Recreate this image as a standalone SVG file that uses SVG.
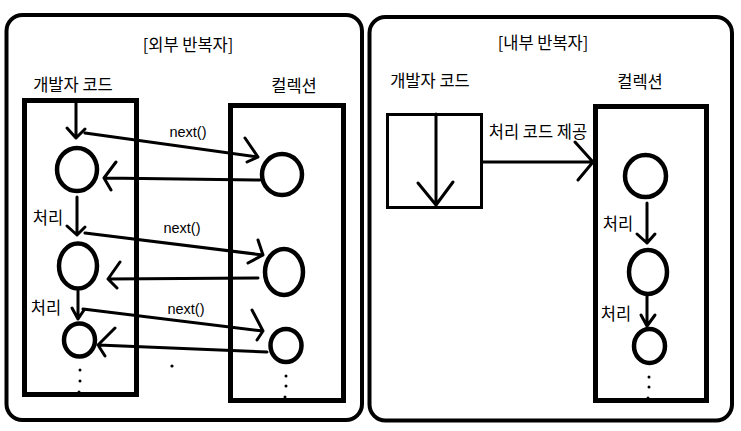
<svg xmlns="http://www.w3.org/2000/svg" width="741" height="431" viewBox="0 0 741 431">
<style>
.frame{fill:none;stroke:#000;stroke-width:4}
.box{fill:none;stroke:#000;stroke-width:5}
.thin{fill:none;stroke:#000;stroke-width:3}
.node{fill:none;stroke:#000;stroke-width:4.5}
.ln{fill:none;stroke:#000;stroke-width:3;stroke-linecap:round;stroke-linejoin:round}
.dot{fill:#000}
text{font-family:"Noto Sans CJK KR","Liberation Sans",sans-serif;font-size:16.5px;fill:#000}
.en{font-family:"Liberation Sans","Noto Sans CJK KR",sans-serif;font-size:14.5px}
</style>
<rect width="741" height="431" fill="#fff"/>
<g id="outer-panel">
<rect class="frame" x="6.5" y="15" width="355.5" height="405" rx="16"/>
<text x="188" y="51" text-anchor="middle">[외부 반복자]</text>
</g>
<g id="inner-panel">
<rect class="frame" x="369.5" y="17" width="362.5" height="403.5" rx="16"/>
<text x="543" y="49" text-anchor="middle">[내부 반복자]</text>
</g>
<g id="outer-dev">
<text x="73" y="91" text-anchor="middle">개발자 코드</text>
<rect class="box" x="24.5" y="100.5" width="112" height="294"/>
</g>
<g id="outer-coll">
<text x="294" y="92" text-anchor="middle">컬렉션</text>
<rect class="box" x="230.5" y="105.5" width="113" height="295"/>
</g>
<g id="outer-dev-n1"><ellipse class="node" cx="77" cy="169.5" rx="20" ry="21.5"/></g>
<g id="outer-dev-n2"><ellipse class="node" cx="78" cy="266" rx="19" ry="22.5"/></g>
<g id="outer-dev-n3"><ellipse class="node" cx="79.5" cy="340" rx="15.5" ry="16.5"/></g>
<g id="outer-coll-n1"><ellipse class="node" cx="282" cy="174.5" rx="20" ry="20.5"/></g>
<g id="outer-coll-n2"><ellipse class="node" cx="284" cy="272" rx="19" ry="23"/></g>
<g id="outer-coll-n3"><ellipse class="node" cx="286" cy="345.5" rx="15.5" ry="16.5"/></g>
<g id="inner-dev">
<text x="430" y="87" text-anchor="middle">개발자 코드</text>
<rect class="thin" x="387.5" y="114.5" width="94" height="93"/>
</g>
<g id="inner-coll">
<text x="640" y="88" text-anchor="middle">컬렉션</text>
<rect class="box" x="595.5" y="106.5" width="111" height="294"/>
</g>
<g id="inner-coll-n1"><ellipse class="node" cx="645.5" cy="176" rx="20.5" ry="21"/></g>
<g id="inner-coll-n2"><ellipse class="node" cx="648" cy="272" rx="19" ry="22"/></g>
<g id="inner-coll-n3"><ellipse class="node" cx="649.5" cy="346" rx="15.5" ry="17"/></g>
<g id="connectors">
<path class="ln" d="M76 102 L76 138 M67 128 L76 138 L85 129"/>
<path class="ln" d="M85 133 L258 157 M245 138 L258 157 L247 162"/>
<text class="en" x="188" y="137" text-anchor="middle">next()</text>
<path class="ln" d="M260 180 L104 178 M116 162 L104 178 L111 190"/>
<path class="ln" d="M77 197 L77 235 M67 226 L77 235 L85 227"/>
<text x="48" y="224" text-anchor="middle">처리</text>
<path class="ln" d="M85 233 L263 255 M258 240 L263 255 L248 263"/>
<text class="en" x="182" y="233" text-anchor="middle">next()</text>
<path class="ln" d="M258 278 L108 279 M120 262 L108 279 L117 288"/>
<path class="ln" d="M78 291 L78 319 M72 308 L78 319 L84 310"/>
<text x="46" y="314" text-anchor="middle">처리</text>
<path class="ln" d="M83 309 L263 331 M252 310 L263 331 L257 340"/>
<text class="en" x="186" y="314" text-anchor="middle">next()</text>
<path class="ln" d="M267 352 L98 345 M115 328 L98 345 L105 356"/>
<path class="ln" d="M436 114 L436 206 M418 183 L436 205 L453 182"/>
<path class="ln" d="M483 162 L593 162 M575 142 L593 162 L578 180"/>
<text x="538" y="138" text-anchor="middle">처리 코드 제공</text>
<path class="ln" d="M647 203 L647 243 M637 234 L647 243 L655 234"/>
<text x="618" y="230" text-anchor="middle">처리</text>
<path class="ln" d="M647 296 L647 326 M641 315 L647 326 L655 315"/>
<text x="616" y="320" text-anchor="middle">처리</text>
</g>
<g id="ellipsis">
<circle class="dot" cx="80" cy="370" r="1.5"/>
<circle class="dot" cx="80" cy="381" r="1.5"/>
<circle class="dot" cx="79" cy="392" r="1.5"/>
<circle class="dot" cx="172" cy="366" r="1.6"/>
<circle class="dot" cx="286" cy="376" r="1.5"/>
<circle class="dot" cx="286" cy="386" r="1.5"/>
<circle class="dot" cx="285" cy="397" r="1.5"/>
<circle class="dot" cx="649" cy="377" r="1.5"/>
<circle class="dot" cx="649" cy="387" r="1.5"/>
<circle class="dot" cx="648" cy="398" r="1.5"/>
</g>
</svg>
